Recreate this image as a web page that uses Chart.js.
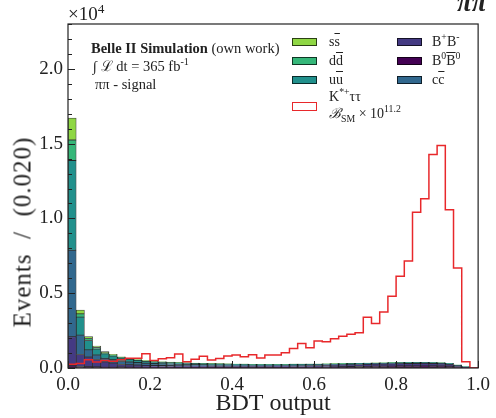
<!DOCTYPE html>
<html>
<head>
<meta charset="utf-8">
<script src="https://cdn.jsdelivr.net/npm/chart.js@4.4.1/dist/chart.umd.min.js"></script>
<style>
  html, body { margin:0; padding:0; background:#fff; }
  #wrap { position:relative; width:496px; height:418px; overflow:hidden; font-family:"Liberation Serif", serif; color:#222; }
  canvas { position:absolute; left:0; top:0; }
  .t { position:absolute; white-space:nowrap; line-height:1; }
  .ol { text-decoration: overline; }
  .sw { position:absolute; width:25px; height:8px; box-sizing:border-box; border:1px solid rgba(0,0,0,0.7); }
  sup, sub { font-size:0.7em; line-height:0; }
</style>
</head>
<body>
<div id="wrap">
  <canvas id="c" width="496" height="418"></canvas>
  <div class="t" style="left:68px; top:4px; font-size:19px;">×10<sup>4</sup></div>
  <div class="t" style="left:457px; top:-11px; font-size:27px; font-weight:bold; font-style:italic;">ππ</div>
  <div class="t" id="ytitle" style="left:22px; top:232px; font-size:25px; letter-spacing:1px; transform:translate(-50%,-50%) rotate(-90deg);">Events&nbsp;&nbsp;/&nbsp;&nbsp;(0.020)</div>

  <div class="t" style="left:91px; top:41px; font-size:14.5px;"><b>Belle II Simulation</b> (own work)</div>
  <div class="t" style="left:93px; top:59px; font-size:14.5px;">∫ ℒ dt = 365 fb<sup>-1</sup></div>
  <div class="t" style="left:95px; top:77px; font-size:14.5px;">ππ - signal</div>

  <div class="sw" style="left:292px; top:38px; background:#8FD744;"></div>
  <div class="t" style="left:329px; top:35px; font-size:14px;">s<span class="ol">s</span></div>
  <div class="sw" style="left:292px; top:57px; background:#35B779;"></div>
  <div class="t" style="left:329px; top:54px; font-size:14px;">d<span class="ol">d</span></div>
  <div class="sw" style="left:292px; top:76px; background:#21908C;"></div>
  <div class="t" style="left:329px; top:73px; font-size:14px;">u<span class="ol">u</span></div>
  <div class="sw" style="left:292px; top:102px; height:9px; background:#fff; border:1.5px solid #e8282b;"></div>
  <div class="t" style="left:329px; top:90px; font-size:14px;">K<sup>*+</sup>ττ</div>
  <div class="t" style="left:329px; top:107px; font-size:14px;"><i>ℬ</i><sub>SM</sub> × 10<sup>11.2</sup></div>

  <div class="sw" style="left:397px; top:38px; background:#443A83;"></div>
  <div class="t" style="left:432px; top:35px; font-size:14px;">B<sup>+</sup>B<sup>-</sup></div>
  <div class="sw" style="left:397px; top:57px; background:#440154;"></div>
  <div class="t" style="left:432px; top:54px; font-size:14px;">B<sup>0</sup><span class="ol">B</span><sup>0</sup></div>
  <div class="sw" style="left:397px; top:76px; background:#31688E;"></div>
  <div class="t" style="left:432px; top:73px; font-size:14px;">c<span class="ol">c</span></div>
</div>
<script>
// Bin centres of BDT output (bin width 0.02)
const binWidth = 0.02;
const binCenters = [0.01,0.03,0.05,0.07,0.09,0.11,0.13,0.15,0.17,0.19,0.21,0.23,0.25,0.27,0.29,0.31,0.33,0.35,0.37,0.39,0.41,0.43,0.45,0.47,0.49,0.51,0.53,0.55,0.57,0.59,0.61,0.63,0.65,0.67,0.69,0.71,0.73,0.75,0.77,0.79,0.81,0.83,0.85,0.87,0.89,0.91,0.93,0.95,0.97,0.99];

// Background components (events per bin), stacked bottom -> top
const bzbz = [150,100,80,70,50,50,65,55,55,55,50,50,53,47,49,46,48,45,46,45,43,43,37,40,42,43,45,54,53,61,60,68,76,84,92,100,107,114,121,127,137,139,140,143,139,129,112,70,26,7];
const bpbm = [1940,800,650,500,350,280,170,160,140,120,110,105,100,95,90,85,85,80,80,80,80,80,80,82,85,88,90,95,100,105,110,115,120,125,130,135,140,145,150,155,160,165,165,165,165,160,140,95,40,10];
const ccbar = [5780,1300,480,300,250,220,200,180,160,140,130,120,115,110,100,95,90,85,80,78,75,72,70,68,66,64,62,60,58,57,55,54,53,52,51,50,50,50,50,50,50,50,50,48,45,42,35,25,10,3];
const uubar = [6000,1200,630,400,300,250,230,190,160,140,120,110,100,90,85,80,75,70,65,60,55,50,48,46,44,42,40,38,36,34,32,30,28,26,24,22,20,18,16,15,14,13,12,11,10,9,8,5,2,0];
const ddbar = [1370,220,130,100,70,60,45,35,30,25,22,20,18,16,15,14,13,12,11,10,10,9,9,8,8,8,8,8,8,8,8,8,8,8,8,8,8,8,8,8,8,8,8,8,7,6,5,3,1,0];
const ssbar = [1470,250,130,100,70,50,40,30,25,20,18,15,14,12,11,10,9,8,8,7,7,6,6,6,5,5,5,5,5,5,5,5,5,5,5,5,5,5,5,5,5,5,5,5,4,4,3,2,1,0];

// Signal K*+ tau tau scaled by 10^11.2
const signal = [250,300,550,400,500,450,550,650,650,950,500,620,680,930,420,580,780,530,640,800,870,760,890,670,870,870,1020,1310,1640,1360,1800,1760,1960,2130,2250,2360,3400,2980,3750,4800,6130,7150,10420,11310,14270,14870,10580,6690,420,0];

const xTicks = [0.0,0.2,0.4,0.6,0.8,1.0];
const yTicks = [0,5000,10000,15000,20000];

function barSet(label, values, color) {
  return {
    type: 'bar', label,
    data: values.map((v,i)=>({x: binCenters[i], y: v})),
    backgroundColor: color,
    borderColor: 'rgba(0,0,0,0.75)',
    borderWidth: 0.8,
    borderSkipped: false,
    barPercentage: 1.0, categoryPercentage: 1.0,
    order: 1
  };
}
const stepPts = [{x:0, y:0}];
signal.forEach((v,i)=>stepPts.push({x: binCenters[i]-binWidth/2, y: v}));
stepPts.push({x:1.0, y:0});

const framePlugin = {
  id: 'frame',
  afterDraw(chart) {
    const {ctx, chartArea: a, scales:{x, y}} = chart;
    ctx.save();
    ctx.strokeStyle = '#222';
    ctx.lineWidth = 1.2;
    ctx.strokeRect(a.left, a.top, a.right-a.left, a.bottom-a.top);
    ctx.lineWidth = 1;
    ctx.beginPath();
    for (let v = 0; v <= 23000; v += 1000) {
      const py = Math.round(y.getPixelForValue(v)) + 0.5;
      const len = (v % 5000 === 0) ? 7 : 4;
      ctx.moveTo(a.left, py); ctx.lineTo(a.left + len, py);
    }
    xTicks.forEach(t => {
      const px = Math.round(x.getPixelForValue(t)) + 0.5;
      ctx.moveTo(px, a.bottom); ctx.lineTo(px, a.bottom - 7);
    });
    ctx.stroke();
    ctx.restore();
  }
};

new Chart(document.getElementById('c'), {
  data: {
    datasets: [
      barSet('B0B0bar', bzbz, '#440154'),
      barSet('B+B-', bpbm, '#443A83'),
      barSet('ccbar', ccbar, '#31688E'),
      barSet('uubar', uubar, '#21908C'),
      barSet('ddbar', ddbar, '#35B779'),
      barSet('ssbar', ssbar, '#8FD744'),
      {
        type: 'line', label: 'K*+ tautau', data: stepPts,
        stepped: 'before', borderColor: '#e8282b', borderWidth: 1.5,
        pointRadius: 0, fill: false, order: 0
      }
    ]
  },
  options: {
    responsive: false, animation: false, devicePixelRatio: 1,
    layout: { padding: { top: 24, right: 14, left: 0, bottom: 0 } },
    plugins: { legend: { display: false }, tooltip: { enabled: false } },
    scales: {
      x: {
        type: 'linear', min: 0, max: 1, stacked: true, offset: false,
        grid: { display: false, drawTicks: false, offset: false }, border: { display: false },
        afterBuildTicks: s => { s.ticks = xTicks.map(v => ({value: v})); },
        ticks: { callback: v => v.toFixed(1), font: { family: 'Liberation Serif', size: 19 }, color: '#222', padding: 6, maxRotation: 0 },
        title: { display: true, text: 'BDT output', font: { family: 'Liberation Serif', size: 24 }, color: '#222', padding: { top: 0, bottom: 0 } },
        afterFit: s => { s.height = 50; }
      },
      y: {
        type: 'linear', min: 0, max: 23000, stacked: true,
        grid: { display: false, drawTicks: false }, border: { display: false },
        afterBuildTicks: s => { s.ticks = yTicks.map(v => ({value: v})); },
        ticks: { callback: v => (v/10000).toFixed(1), font: { family: 'Liberation Serif', size: 19 }, color: '#222', padding: 5 },
        afterFit: s => { s.width = 68; }
      }
    }
  },
  plugins: [framePlugin]
});
</script>
</body>
</html>
